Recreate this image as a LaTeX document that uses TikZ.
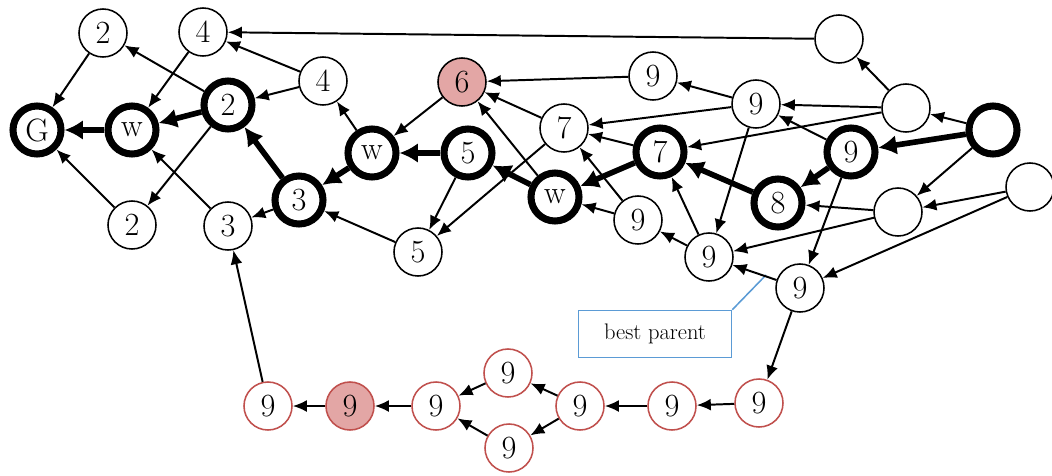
\documentclass[tikz,border=0pt]{standalone}
\usepackage{fontspec}
\usepackage{tikz}
\usetikzlibrary{arrows.meta}
\definecolor{redline}{RGB}{192,80,77}
\definecolor{pinkfill}{RGB}{227,166,165}
\definecolor{blueline}{RGB}{91,155,213}

\begin{document}
\begin{tikzpicture}[x=0.025cm,y=-0.025cm,
      st/.style={circle,draw,line width=1.1pt,minimum size=1.2cm,inner sep=0pt,font=\fontsize{23}{27}\selectfont},
      pathnode/.style={st,line width=5pt},
      rd/.style={st,draw=redline},
      hit/.style={fill=pinkfill},
      link/.style={line width=1.4pt,-{Latex[length=10pt,width=8.5pt]}},
      boldedge/.style={line width=4pt,-{Latex[length=13pt,width=14pt]}}]
                      \useasboundingbox (0,0) rectangle (1052,475);
                      \node[pathnode] (G) at (37,130) {G};
                      \node[pathnode] (wA) at (132,130) {w};
                      \node[st] (twoA) at (103,33) {2};
                      \node[st] (fourA) at (203,32) {4};
                      \node[pathnode] (twoB) at (228,105) {2};
                      \node[st] (fourB) at (323,81) {4};
                      \node[st] (twoC) at (132,225) {2};
                      \node[st] (threeA) at (228,226) {3};
                      \node[pathnode] (threeB) at (299,200) {3};
                      \node[pathnode] (wB) at (372,153) {w};
                      \node[st,hit] (six) at (462,82) {6};
                      \node[pathnode] (fiveA) at (468,153) {5};
                      \node[st] (fiveB) at (418,252) {5};
                      \node[st] (sevenA) at (564,128) {7};
                      \node[pathnode] (wC) at (555,197) {w};
                      \node[st] (nineA) at (653,76) {9};
                      \node[st] (nineB) at (638,220) {9};
                      \node[pathnode] (sevenB) at (660,152) {7};
                      \node[st] (nineC) at (756,104) {9};
                      \node[st] (nineE) at (709,257) {9};
                      \node[pathnode] (eight) at (778,203) {8};
                      \node[pathnode] (nineD) at (851,152) {9};
                      \node[st] (nineF) at (800,288) {9};
                      \node[st] (emA) at (839,39) {};
                      \node[st] (emB) at (906,108) {};
                      \node[pathnode] (start) at (993,130) {};
                      \node[st] (emC) at (898,212) {};
                      \node[st] (emD) at (1030,187) {};
                      \node[rd] (rA) at (268,406) {9};
                      \node[rd,hit] (rB) at (350,406) {9};
                      \node[rd] (rC) at (436,406) {9};
                      \node[rd] (rD) at (508,373) {9};
                      \node[rd] (rE) at (509,448) {9};
                      \node[rd] (rF) at (580,406) {9};
                      \node[rd] (rG) at (672,406) {9};
                      \node[rd] (rH) at (759,403) {9};
                      \node[draw=blueline,line width=1.1pt,minimum width=3.825cm,minimum height=1.175cm,font=\fontsize{16}{19}\selectfont] (best) at (655,334) {best parent};
                      \coordinate (tip) at (766,275);
                      \draw[blueline,line width=1.1pt] (best.north east) -- (tip);
                      \path[link] (twoA) edge (G) (twoC) edge (G) (fourA) edge (wA) (threeA) edge (wA) (twoB) edge (twoA) (twoB) edge (twoC);
                      \path[link] (fourB) edge (fourA) (fourB) edge (twoB) (threeB) edge (threeA) (fiveB) edge (threeB) (wB) edge (fourB) (rA) edge (threeA) (emA) edge (fourA);
                      \path[link] (six) edge (wB) (fiveA) edge (fiveB) (sevenA) edge (fiveB) (sevenA) edge (six) (wC) edge (six) (nineA) edge (six);
                      \path[link] (nineB) edge (wC) (nineB) edge (sevenA) (sevenB) edge (sevenA) (nineC) edge (sevenA) (nineC) edge (nineA) (nineC) edge (nineE);
                      \path[link] (emB) edge (nineC) (emB) edge (emA) (emB) edge (sevenB) (start) edge (emB) (start) edge (emC) (nineD) edge (nineC) (nineD) edge (nineF);
                      \path[link] (emC) edge (eight) (emC) edge (nineE) (emD) edge (emC) (emD) edge (nineF) (nineE) edge (nineB) (nineE) edge (sevenB) (nineF) edge (nineE) (nineF) edge (rH);
                      \path[link] (rH) edge (rG) (rG) edge (rF) (rF) edge (rD) (rF) edge (rE) (rD) edge (rC) (rE) edge (rC) (rC) edge (rB) (rB) edge (rA);
                      \draw[boldedge] (wA) -- (G);
                      \draw[boldedge] (twoB) -- (wA);
                      \draw[boldedge] (threeB) -- (twoB);
                      \draw[boldedge] (wB) -- (threeB);
                      \draw[boldedge] (fiveA) -- (wB);
                      \draw[boldedge] (wC) -- (fiveA);
                      \draw[boldedge] (sevenB) -- (wC);
                      \draw[boldedge] (eight) -- (sevenB);
                      \draw[boldedge] (nineD) -- (eight);
                      \draw[boldedge] (start) -- (nineD);
\end{tikzpicture}
\end{document}
